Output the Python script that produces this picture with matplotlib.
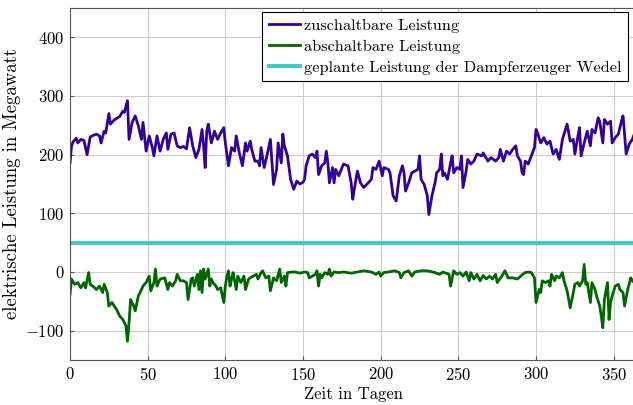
import matplotlib.pyplot as plt

plt.rcParams["font.family"] = ["cmr10", "DejaVu Serif"]
plt.rcParams["mathtext.fontset"] = "cm"
plt.rcParams["axes.formatter.use_mathtext"] = True
plt.rcParams["axes.unicode_minus"] = True

# zuschaltbare Leistung (MW)
zu_days = [0, 1, 2, 4, 5, 7, 9, 11, 13, 15, 17, 19, 20, 22, 23, 25, 26, 28, 30, 32,
           34, 35, 37, 38, 40, 42, 44, 46, 47, 49, 51, 53, 54, 56, 58, 60, 62, 63, 65, 67,
           69, 71, 73, 75, 77, 79, 81, 83, 85, 86, 87, 88, 89, 91, 93, 95, 97, 99, 100, 102,
           104, 106, 107, 109, 111, 113, 114, 116, 117, 119, 121, 122, 123, 125, 127, 129, 131, 133, 134, 136,
           137, 138, 140, 142, 144, 146, 148, 150, 151, 152, 154, 156, 158, 159, 160, 162, 164, 165, 166, 167,
           169, 170, 171, 173, 176, 179, 181, 182, 183, 185, 187, 189, 192, 194, 195, 197, 199, 201, 202, 205,
           206, 208, 210, 212, 214, 215, 216, 218, 220, 222, 224, 225, 226, 228, 230, 231, 233, 235, 236, 238,
           239, 240, 241, 243, 245, 246, 247, 249, 251, 252, 253, 255, 256, 258, 260, 262, 265, 266, 269, 271,
           274, 276, 277, 279, 281, 283, 285, 287, 288, 290, 291, 292, 293, 295, 297, 299, 300, 301, 303, 305,
           307, 309, 311, 313, 315, 317, 320, 322, 324, 325, 327, 328, 329, 331, 333, 335, 336, 338, 340, 341,
           343, 344, 346, 348, 349, 351, 353, 355, 356, 357, 358, 360, 362, 365]
zu_mw = [186, 215, 222, 228, 220, 226, 224, 200, 230, 233, 235, 232, 220, 240, 237, 270, 252, 258, 262, 265,
         274, 272, 292, 226, 255, 266, 249, 226, 255, 206, 232, 212, 198, 232, 206, 226, 237, 209, 235, 237,
         215, 212, 214, 210, 246, 215, 195, 209, 243, 215, 178, 240, 252, 220, 240, 226, 237, 246, 220, 181,
         212, 206, 232, 203, 181, 220, 206, 223, 209, 189, 189, 181, 212, 178, 201, 226, 149, 175, 220, 186,
         235, 215, 198, 158, 141, 155, 150, 153, 158, 181, 198, 201, 195, 206, 166, 181, 186, 206, 186, 152,
         178, 152, 175, 164, 184, 181, 152, 124, 141, 172, 152, 144, 152, 158, 178, 175, 189, 164, 178, 175,
         169, 130, 121, 164, 181, 169, 138, 152, 169, 172, 175, 198, 158, 149, 130, 98, 130, 152, 169, 175,
         201, 164, 169, 158, 186, 198, 169, 178, 175, 198, 144, 172, 192, 184, 189, 201, 198, 203, 189, 195,
         189, 195, 209, 189, 206, 201, 209, 215, 198, 189, 170, 166, 189, 184, 198, 212, 243, 237, 220, 229,
         218, 223, 201, 209, 192, 226, 252, 223, 226, 201, 232, 246, 198, 220, 240, 215, 243, 237, 263, 257,
         220, 260, 252, 257, 220, 229, 235, 257, 266, 235, 201, 218, 226, 248]

# abschaltbare Leistung (MW)
ab_days = [0, 1, 3, 5, 7, 9, 10, 12, 13, 16, 17, 19, 21, 22, 24, 25, 27, 30, 32, 34,
           36, 37, 38, 39, 41, 42, 44, 46, 47, 49, 51, 52, 54, 55, 56, 58, 61, 63, 64, 66,
           68, 69, 71, 73, 75, 76, 78, 79, 80, 82, 83, 84, 85, 86, 87, 89, 90, 91, 92, 94,
           95, 97, 99, 100, 101, 102, 103, 104, 105, 107, 108, 110, 112, 113, 115, 116, 118, 120, 121, 123,
           124, 126, 128, 129, 131, 133, 135, 136, 138, 139, 140, 143, 145, 148, 151, 153, 154, 156, 158, 159,
           160, 161, 162, 164, 166, 167, 168, 170, 173, 176, 181, 185, 189, 194, 197, 199, 200, 202, 205, 209,
           212, 213, 215, 218, 220, 222, 226, 230, 235, 238, 240, 242, 244, 245, 247, 249, 251, 253, 255, 257,
           258, 260, 262, 264, 266, 268, 270, 272, 274, 275, 278, 280, 282, 285, 288, 291, 293, 295, 297, 299,
           300, 302, 303, 304, 306, 308, 309, 310, 312, 313, 315, 317, 318, 320, 322, 324, 325, 327, 328, 330,
           331, 332, 333, 335, 336, 338, 339, 341, 342, 343, 344, 346, 347, 348, 349, 351, 353, 354, 356, 357,
           359, 361, 362, 365]
ab_mw = [-38, -12, -21, -18, -27, -18, -27, -1, -21, -27, -30, -24, -35, -21, -35, -58, -52, -64, -75, -81,
         -92, -118, -86, -47, -58, -66, -41, -30, -24, -18, -7, -32, -18, 5, -24, -12, -10, -30, -18, -24,
         -15, -4, -15, -15, -18, -47, -12, -10, -24, -4, -30, 2, -35, 5, -12, 5, -24, -12, -18, -24,
         -30, -27, -52, -24, -7, 2, -24, -12, -1, -30, -7, -18, -7, -30, -12, -10, -7, -4, -12, -1,
         2, -10, -7, -32, -10, -15, 5, -18, -7, -24, -1, 0, 0, -2, 0, -1, -10, -7, -4, 2,
         -24, -4, -10, -1, -4, 5, -7, 0, -1, 0, -2, 0, 2, 0, -4, 0, -7, -1, 0, 2,
         -1, -10, -1, 2, -7, 0, 2, 2, -1, -4, 0, -2, -4, -24, 2, -4, -1, -7, 0, -15,
         -1, -12, -4, -15, -6, -12, -7, -12, -4, -18, -7, 2, -10, -10, -12, -5, -1, 0, -1, -10,
         -52, -30, -35, -15, -18, -15, -24, -4, -15, -7, -10, -1, -15, -32, -61, -35, -21, -18, -24, -15,
         13, -21, -18, -52, -18, -30, -41, -58, -75, -95, -47, -18, -81, -52, -41, -24, -21, -30, -35, -58,
         -30, -10, -15, -22]

# geplante Leistung der Dampferzeuger Wedel (MW)
plan_days = [0, 365]
plan_mw = [50, 50]

fig = plt.figure(figsize=(6.33, 4.05), dpi=100)
ax = fig.add_axes([70 / 633, 45 / 405, 567 / 633, 352 / 405])

ax.plot(zu_days, zu_mw, color="#330099", lw=2.0, label="zuschaltbare Leistung")
ax.plot(ab_days, ab_mw, color="#006600", lw=2.0, label="abschaltbare Leistung")
ax.plot(plan_days, plan_mw, color="#40c8c8", lw=2.8,
        label="geplante Leistung der Dampferzeuger Wedel")

ax.set_xlim(0, 365)
ax.set_ylim(-150, 450)
ax.set_xticks(range(0, 351, 50))
ax.set_yticks(range(-100, 401, 100))
ax.grid(True, color="#cccccc", lw=0.8)
ax.set_axisbelow(True)
ax.tick_params(direction="in", length=3, labelsize=12, color="#555555", pad=4)
for s in ax.spines.values():
    s.set_color("#555555")

ax.set_xlabel("Zeit in Tagen", fontsize=12, labelpad=3)
ax.set_ylabel("elektrische Leistung in Megawatt", fontsize=13.5, labelpad=3)

leg = ax.legend(loc="upper right", bbox_to_anchor=(0.984, 0.989), borderaxespad=0,
                fancybox=False, framealpha=1, edgecolor="black", fontsize=11.75,
                handlelength=1.9, handletextpad=0.25, borderpad=0.4, labelspacing=0.4)
leg.get_frame().set_linewidth(0.8)

fig.savefig("out.png", dpi=100)
